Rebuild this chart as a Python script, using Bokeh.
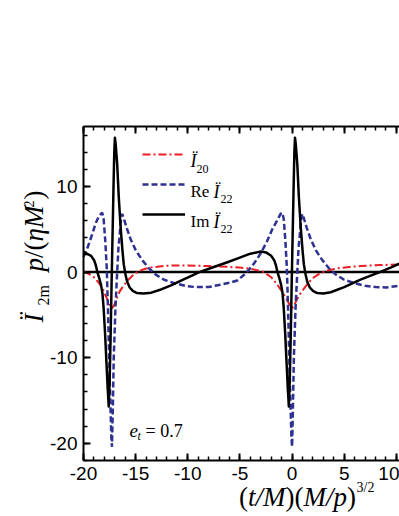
import math
from bokeh.plotting import figure
from bokeh.models import (Range1d, LinearAxis, FixedTicker, Label, Legend, LegendItem)
from bokeh.core.properties import value
from bokeh.embed import file_html
from bokeh.resources import INLINE

# ---------------- data ----------------
i20_x = [-20.0, -19.5, -19.0, -18.5, -18.1, -17.75, -17.45, -17.27, -17.07, -16.8,
         -16.5, -16.17, -15.7, -15.2, -14.8, -14.2, -13.5, -12.0, -10.0, -8.0,
         -6.0, -4.8, -4.0, -3.3, -2.7, -2.0, -1.4, -0.9, -0.5, -0.2,
         0.0, 0.2, 0.5, 0.8, 1.1, 1.6, 2.1, 2.6, 3.1, 3.7,
         4.4, 5.5, 6.6, 8.5, 10.3]
i20_y = [0.1, -0.2, -0.6, -1.3, -2.1, -3.1, -3.9, -4.2, -3.9, -3.0,
         -2.2, -1.6, -0.9, -0.3, 0.05, 0.35, 0.55, 0.75, 0.78, 0.7,
         0.6, 0.5, 0.4, 0.2, 0.0, -0.6, -1.5, -2.4, -3.2, -3.9,
         -4.2, -3.9, -3.1, -2.5, -2.0, -1.2, -0.6, -0.2, 0.05, 0.28,
         0.45, 0.6, 0.72, 0.82, 0.9]

re22_x = [-20.0, -19.6, -19.2, -18.8, -18.5, -18.2, -18.07, -17.92, -17.77, -17.65,
          -17.54, -17.42, -17.33, -17.27, -17.19, -17.10, -16.93, -16.77, -16.65, -16.52,
          -16.40, -16.29, -16.12, -15.87, -15.47, -14.97, -14.37, -13.77, -13.07, -12.27,
          -11.27, -10.27, -9.27, -8.0, -7.0, -6.0, -5.2, -4.4, -3.65, -3.0,
          -2.4, -1.9, -1.4, -1.1, -0.94, -0.8, -0.65, -0.5, -0.38, -0.27,
          -0.15, -0.06, 0.0, 0.08, 0.17, 0.34, 0.5, 0.62, 0.75, 0.87,
          0.98, 1.15, 1.4, 1.8, 2.3, 2.9, 3.5, 4.2, 5.0, 6.0,
          7.0, 8.0, 9.0, 10.3]
re22_y = [1.8, 2.9, 4.3, 5.8, 6.6, 6.93, 6.2, 3.8, 0.5, -4.5,
          -10.0, -15.5, -19.3, -20.4, -16.0, -10.0, -4.0, 0.0, 2.8, 4.5,
          6.2, 6.8, 6.2, 5.2, 3.8, 2.5, 1.4, 0.5, -0.3, -0.9,
          -1.3, -1.6, -1.75, -1.75, -1.5, -1.25, -0.95, -0.1, 1.0, 2.2,
          3.6, 5.0, 6.1, 6.8, 6.93, 6.2, 3.8, 0.5, -4.5, -10.0,
          -15.5, -19.3, -20.4, -16.0, -10.0, -4.0, 0.0, 2.8, 4.5, 6.2,
          6.8, 6.2, 5.2, 3.8, 2.5, 1.4, 0.5, -0.3, -0.9, -1.3,
          -1.6, -1.75, -1.8, -1.6]

im22_x = [-20.0, -19.27, -18.97, -18.82, -18.67, -18.47, -18.32, -18.19, -18.07, -17.93,
          -17.79, -17.68, -17.58, -17.49, -17.40, -17.31, -17.22, -17.13, -17.05, -16.99,
          -16.92, -16.77, -16.62, -16.45, -16.27, -16.14, -15.97, -15.82, -15.57, -15.27,
          -14.87, -14.27, -13.5, -12.5, -11.6, -10.5, -9.6, -8.9, -7.5, -6.2,
          -5.2, -4.0, -3.0, -2.5, -2.0, -1.7, -1.55, -1.4, -1.2, -1.05,
          -0.92, -0.8, -0.66, -0.52, -0.41, -0.31, -0.22, -0.13, -0.04, 0.05,
          0.14, 0.22, 0.28, 0.35, 0.5, 0.65, 0.82, 1.0, 1.13, 1.3,
          1.45, 1.7, 2.0, 2.4, 3.0, 3.7, 5.0, 6.5, 8.4, 9.5,
          10.3]
im22_y = [2.35, 1.9, 1.35, 0.8, 0.0, -0.8, -1.5, -2.4, -4.2, -7.2,
          -10.8, -13.6, -15.7, -12.5, -7.5, -1.5, 4.0, 9.5, 14.0, 15.7,
          15.0, 12.6, 8.8, 5.4, 2.6, 0.9, -0.3, -1.1, -1.8, -2.2,
          -2.45, -2.5, -2.4, -2.0, -1.55, -0.9, -0.4, 0.0, 0.6, 1.15,
          1.6, 2.15, 2.4, 2.3, 1.9, 1.35, 0.8, 0.0, -0.8, -1.5,
          -2.4, -4.2, -7.2, -10.8, -13.6, -15.7, -12.5, -7.5, -1.5, 4.0,
          9.5, 14.0, 15.7, 15.0, 12.6, 8.8, 5.4, 2.6, 0.9, -0.3,
          -1.1, -1.8, -2.2, -2.45, -2.5, -2.35, -1.75, -0.9, 0.0, 0.55,
          1.0]

x_ticks = [-20, -15, -10, -5, 0, 5, 10]
x_tick_labels = ["-20", "-15", "-10", "-5", "0", "5", "10"]
y_ticks = [-20, -10, 0, 10]
y_tick_labels = ["-20", "-10", "0", "10"]
x_minor = list(range(-20, 11, 1))
y_minor = list(range(-22, 17, 2))

# plot box (axes extent) and zero reference line
x_start, x_end = -20.0, 10.3
y_start, y_end = -22.0, 17.0
zero_level = 0.0

RED = "#ED1C24"
BLUE = "#2E3192"
SERIF = "Liberation Serif"
SANS = "Liberation Sans"

W, H = 399, 516
BOX_L, BOX_R, BOX_T, BOX_B = 83, 399, 126, 460   # pixel box of the axes
kx = (BOX_R - BOX_L) / (x_end - x_start)
ky = (BOX_B - BOX_T) / (y_end - y_start)
xr = Range1d(x_start - BOX_L / kx, x_end + (W - BOX_R) / kx)
yr = Range1d(y_start - (H - BOX_B) / ky, y_end + BOX_T / ky)

p = figure(width=W, height=H, output_backend="svg", toolbar_location=None,
           x_range=xr, y_range=yr, x_axis_type=None, y_axis_type=None,
           min_border=0, min_border_left=0, min_border_right=0,
           min_border_top=0, min_border_bottom=0)
p.outline_line_color = None
p.xgrid.visible = False
p.ygrid.visible = False
p.background_fill_color = "white"
p.border_fill_color = "white"


def style_axis(ax, standoff):
    ax.axis_line_width = 2
    ax.axis_line_color = "black"
    ax.major_tick_in = 7
    ax.major_tick_out = 0
    ax.minor_tick_in = 4
    ax.minor_tick_out = 0
    ax.major_tick_line_width = 2
    ax.minor_tick_line_width = 1.5
    ax.major_tick_line_color = "black"
    ax.minor_tick_line_color = "black"
    ax.major_label_text_font = SANS
    ax.major_label_text_font_size = "19px"
    ax.major_label_text_color = "black"
    ax.major_label_standoff = standoff


bottom = LinearAxis(ticker=FixedTicker(ticks=x_ticks, minor_ticks=x_minor),
                    fixed_location=y_start, bounds=(x_start, x_end),
                    major_label_overrides=dict(zip(x_ticks, x_tick_labels)))
style_axis(bottom, 6)
p.add_layout(bottom, "below")

left = LinearAxis(ticker=FixedTicker(ticks=y_ticks, minor_ticks=y_minor),
                  fixed_location=x_start, bounds=(y_start, y_end),
                  major_label_overrides=dict(zip(y_ticks, y_tick_labels)))
style_axis(left, 6)
p.add_layout(left, "left")

top = LinearAxis(ticker=FixedTicker(ticks=x_ticks, minor_ticks=x_minor),
                 fixed_location=y_end, bounds=(x_start, x_end))
style_axis(top, 3)
top.major_label_text_color = None
p.add_layout(top, "above")

# zero reference line across the axes box
p.line([x_start, x_end], [zero_level, zero_level], line_color="black", line_width=2.5)

r20 = p.line(i20_x, i20_y, line_color=RED, line_width=2, line_dash="8 3 2 3")
rre = p.line(re22_x, re22_y, line_color=BLUE, line_width=2.5, line_dash="6 3")
rim = p.line(im22_x, im22_y, line_color="black", line_width=2.5, line_join="round")

legend = Legend(items=[LegendItem(label=value(" "), renderers=[r20]),
                       LegendItem(label=value(" "), renderers=[rre]),
                       LegendItem(label=value(" "), renderers=[rim])],
                location=(142, H - 223.5), orientation="vertical",
                glyph_width=43, glyph_height=20, label_height=20, spacing=10,
                padding=0, margin=0, border_line_color=None,
                background_fill_alpha=0, label_text_font_size="10px")
p.add_layout(legend, "center")


def lab(text, px, py, size, italic=False, angle=0.0):
    """px, py: page pixel position of the text anchor (baseline start)."""
    p.add_layout(Label(x=px, y=H - py, x_units="screen", y_units="screen", text=text,
                       text_font=SERIF, text_font_size=f"{size}px",
                       text_font_style="italic" if italic else "normal",
                       angle=angle, text_align="left", text_baseline="alphabetic",
                       text_color="black"))


# legend texts
lab("Ï", 190, 160, 18, italic=True)
lab("20", 196, 168, 12)
lab("Re", 190, 191, 17)
lab("Ï", 213, 191, 18, italic=True)
lab("22", 220, 198, 12)
lab("Im", 190, 221, 17)
lab("Ï", 213, 221, 18, italic=True)
lab("22", 220, 228, 12)

# e_t annotation
lab("e", 129, 430, 19, italic=True)
lab("t", 137, 435, 12, italic=True)
lab("= 0.7", 145, 430, 18)

# x-axis title
lab("(", 238.5, 496, 27)
lab("t/M", 247.5, 496, 27, italic=True)
lab(")(", 285, 496, 27)
lab("M/p", 303, 496, 27, italic=True)
lab(")", 346.5, 496, 27)
lab("3/2", 356, 487, 14)

# y-axis title (rotated, reads upward)
A = math.pi / 2
lab("Ï", 33.5, 322, 27, italic=True, angle=A)
lab("2m", 43, 305, 16, angle=A)
lab("p", 33.5, 271, 27, italic=True, angle=A)
lab("/(", 33.5, 257.5, 27, angle=A)
lab("ηM", 33.5, 241, 27, italic=True, angle=A)
lab("2", 28, 207, 14, angle=A)
lab(")", 33.5, 199, 27, angle=A)

open("out.html", "w").write(file_html(p, INLINE))
